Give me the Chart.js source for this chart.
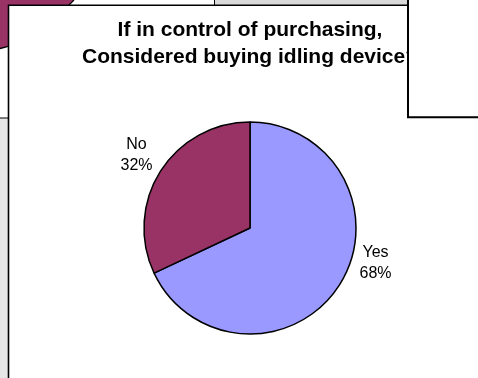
<!DOCTYPE html>
<html>
<head>
<meta charset="utf-8">
<script src="https://cdn.jsdelivr.net/npm/chart.js@4/dist/chart.umd.min.js"></script>
<style>
  html, body { margin: 0; padding: 0; background: #ffffff; }
  #wrap { width: 478px; height: 378px; }
</style>
</head>
<body>
<div id="wrap"><canvas id="c" width="478" height="378"></canvas></div>
<script>
// Survey answers
const categories = ['Yes', 'No'];
const shares = [68, 32];
const sliceColors = ['#9999FF', '#993366'];
const titleLines = ['If in control of purchasing,', 'Considered buying idling device?'];

// Where each two-line label sits relative to its slice's outer mid-point
const labelNudge = [[36, -22], [-24, -16]];

// Surrounding worksheet pieces: neighbouring chart frames behind and on top
const sheetBackdrop = {
  id: 'sheetBackdrop',
  beforeDraw(chart) {
    const ctx = chart.ctx;
    const W = chart.width, H = chart.height;
    ctx.save();
    ctx.fillStyle = '#ffffff';
    ctx.fillRect(0, 0, W, H);

    // grey strip of the frame above
    ctx.fillStyle = '#d9d9d9';
    ctx.fillRect(215, 0, 193, 6);
    ctx.strokeStyle = '#000000';
    ctx.lineWidth = 1;
    ctx.beginPath();
    ctx.moveTo(214.5, 0);
    ctx.lineTo(214.5, 6);
    ctx.stroke();

    // corner of a neighbouring pie slice
    ctx.fillStyle = '#993366';
    ctx.beginPath();
    ctx.moveTo(0, 0);
    ctx.lineTo(74, 0);
    ctx.lineTo(50, 24);
    ctx.lineTo(8, 46.5);
    ctx.lineTo(0, 48.5);
    ctx.closePath();
    ctx.fill();
    ctx.strokeStyle = '#000000';
    ctx.lineWidth = 1.3;
    ctx.beginPath();
    ctx.moveTo(74, 0);
    ctx.lineTo(50, 24);
    ctx.lineTo(8, 46.5);
    ctx.lineTo(0, 48.5);
    ctx.stroke();

    // grey frame on the left below
    ctx.fillStyle = '#e6e6e6';
    ctx.fillRect(0, 118, 9, H - 118);
    ctx.lineWidth = 1;
    ctx.beginPath();
    ctx.moveTo(0, 118);
    ctx.lineTo(9, 118);
    ctx.stroke();

    // this chart's own frame
    ctx.fillStyle = '#ffffff';
    ctx.fillRect(8, 5, W - 8, H - 5);
    ctx.strokeStyle = '#000000';
    ctx.lineWidth = 1.6;
    ctx.beginPath();
    ctx.moveTo(8.5, H);
    ctx.lineTo(8.5, 5.2);
    ctx.lineTo(W, 5.2);
    ctx.stroke();
    ctx.restore();
  },
  afterDraw(chart) {
    // blank frame overlapping the top-right corner
    const ctx = chart.ctx;
    const W = chart.width;
    ctx.save();
    ctx.fillStyle = '#ffffff';
    ctx.fillRect(408, 0, W - 408, 117);
    ctx.strokeStyle = '#000000';
    ctx.lineWidth = 2;
    ctx.beginPath();
    ctx.moveTo(408, 0);
    ctx.lineTo(408, 117.3);
    ctx.lineTo(W, 117.3);
    ctx.stroke();
    ctx.restore();
  }
};

// Category name and percentage beside each slice
const sliceLabels = {
  id: 'sliceLabels',
  afterDatasetsDraw(chart, args, opts) {
    const ctx = chart.ctx;
    const meta = chart.getDatasetMeta(0);
    const values = chart.data.datasets[0].data;
    const total = values.reduce((a, b) => a + b, 0);
    ctx.save();
    ctx.font = '16px "Liberation Sans", Arial, sans-serif';
    ctx.fillStyle = '#000000';
    ctx.textAlign = 'center';
    ctx.textBaseline = 'middle';
    meta.data.forEach((arc, i) => {
      const p = arc.getProps(['x', 'y', 'startAngle', 'endAngle', 'outerRadius'], true);
      const mid = (p.startAngle + p.endAngle) / 2;
      const nudge = opts.nudge[i] || [0, 0];
      const cx = p.x + Math.cos(mid) * p.outerRadius + nudge[0];
      const cy = p.y + Math.sin(mid) * p.outerRadius + nudge[1];
      const pct = Math.round(values[i] / total * 100) + '%';
      ctx.fillText(chart.data.labels[i], cx, cy - 10.5);
      ctx.fillText(pct, cx, cy + 10.5);
    });
    ctx.restore();
  }
};

new Chart(document.getElementById('c'), {
  type: 'pie',
  data: {
    labels: categories,
    datasets: [{
      data: shares,
      backgroundColor: sliceColors,
      borderColor: '#000000',
      borderWidth: 1.5,
      radius: 106,
      hoverOffset: 0
    }]
  },
  options: {
    responsive: false,
    devicePixelRatio: 1,
    animation: false,
    events: [],
    layout: { padding: { left: 22, right: 0, top: 0, bottom: 0 } },
    plugins: {
      legend: { display: false },
      tooltip: { enabled: false },
      title: {
        display: true,
        text: titleLines,
        color: '#000000',
        font: { family: '"Liberation Sans", Arial, sans-serif', size: 21, weight: 'bold', lineHeight: '27px' },
        padding: { top: 17, bottom: 7 }
      },
      sliceLabels: { nudge: labelNudge }
    }
  },
  plugins: [sheetBackdrop, sliceLabels]
});
</script>
</body>
</html>
